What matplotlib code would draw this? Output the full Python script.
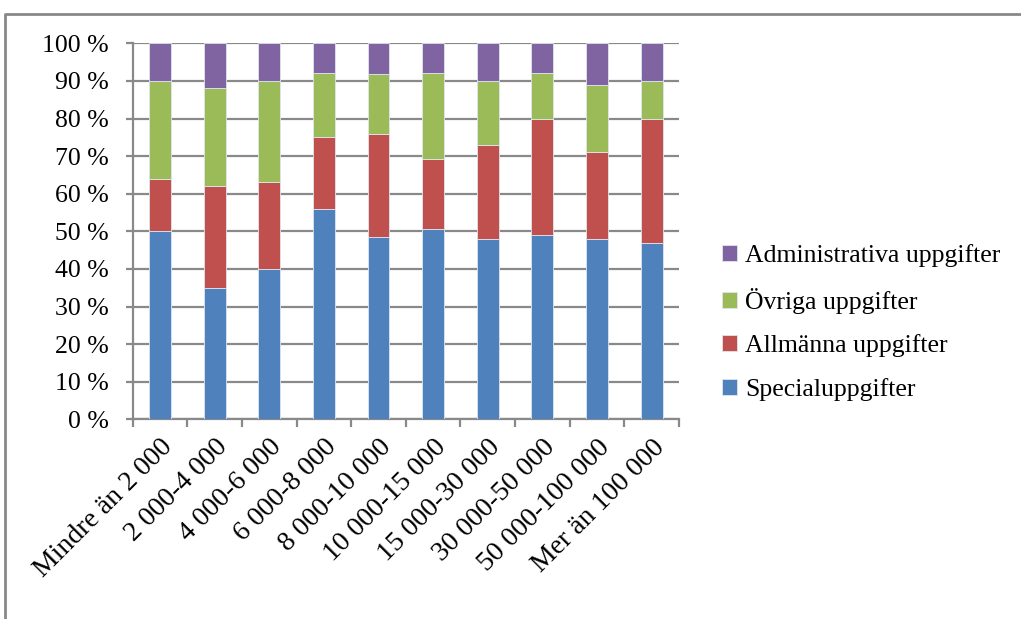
import numpy as np
import matplotlib
matplotlib.use("Agg")
import matplotlib.pyplot as plt
from matplotlib.lines import Line2D
from matplotlib.ticker import FuncFormatter

categories = ['Mindre än 2 000', '2 000-4 000', '4 000-6 000', '6 000-8 000', '8 000-10 000',
              '10 000-15 000', '15 000-30 000', '30 000-50 000', '50 000-100 000', 'Mer än 100 000']
special = [50, 35, 40, 56, 48.4, 50.5, 48, 49, 48, 47]
allmanna = [14, 27, 23, 19, 27.4, 18.8, 25, 31, 23, 33]
ovriga = [26, 26, 27, 17, 16.1, 22.8, 17, 12, 18, 10]
admin = [10, 12, 10, 8, 8.1, 7.9, 10, 8, 11, 10]

series = [
    ('Specialuppgifter', special, '#4F81BD'),
    ('Allmänna uppgifter', allmanna, '#C0504D'),
    ('Övriga uppgifter', ovriga, '#9BBB59'),
    ('Administrativa uppgifter', admin, '#8064A2'),
]

plt.rcParams['font.family'] = ['Liberation Serif', 'DejaVu Serif']
plt.rcParams['font.size'] = 18.5
grey = '#898989'

fig = plt.figure(figsize=(10.21, 6.19), dpi=100)
ax = fig.add_axes([0.130, 0.3226, 0.535, 0.6074])

x = np.arange(len(categories))
bottom = np.zeros(len(categories))
handles = []
for name, vals, col in series:
    vals = np.array(vals, dtype=float)
    b = ax.bar(x, vals, width=0.4, bottom=bottom, color=col, edgecolor='#dfe6ef',
               linewidth=0.6, label=name, zorder=3)
    bottom += vals
    handles.append(b)

ax.set_xlim(-0.5, len(categories) - 0.5)
ax.set_ylim(0, 100)
ax.set_yticks(np.arange(0, 101, 10))
ax.yaxis.set_major_formatter(FuncFormatter(lambda v, p: f'{int(v)} %'))
ax.yaxis.grid(True, color=grey, linewidth=1.6, zorder=0)
ax.set_axisbelow(True)

# tick marks sit between categories, labels at the bar centres
ax.set_xticks(np.arange(-0.5, len(categories)), minor=False)
ax.set_xticklabels([])
ax.set_xticks(x, minor=True)
ax.set_xticklabels(categories, minor=True, rotation=45, ha='right', va='top',
                   rotation_mode='anchor', fontsize=20)
ax.tick_params(axis='x', which='minor', length=0, pad=11)
ax.tick_params(axis='x', which='major', length=6, width=1.6, color=grey)
ax.tick_params(axis='y', length=5, width=1.6, color=grey, pad=12, labelsize=18.5)

for s in ['top', 'right']:
    ax.spines[s].set_visible(False)
for s in ['left', 'bottom']:
    ax.spines[s].set_color(grey)
    ax.spines[s].set_linewidth(1.6)

leg = fig.legend(handles[::-1], [s[0] for s in series][::-1], loc='upper left',
                 bbox_to_anchor=(0.697, 0.622), frameon=False, fontsize=18.5,
                 handlelength=0.6, handleheight=0.6, handletextpad=0.3,
                 labelspacing=0.8, borderaxespad=0)

# outer chart border (cut off at right and bottom)
W, H = 1021, 619
fig.add_artist(Line2D([5 / W, 5 / W, 1.0], [0.0, 1 - 14 / H, 1 - 14 / H],
                      transform=fig.transFigure, color=grey, linewidth=2))

fig.savefig('out.png', dpi=100)
